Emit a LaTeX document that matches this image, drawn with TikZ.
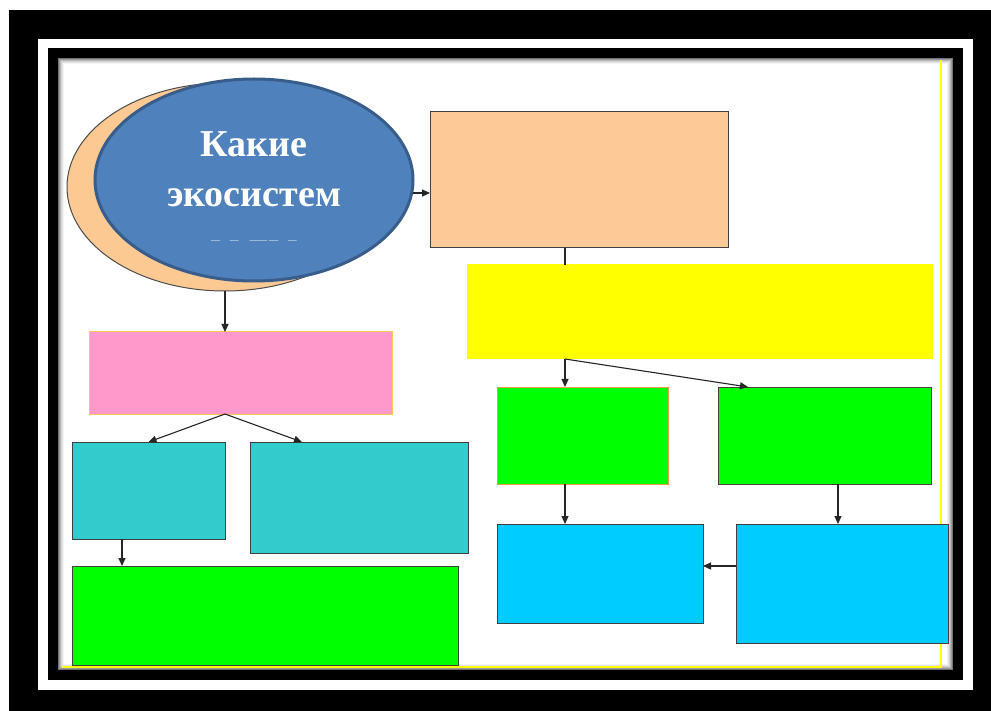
\documentclass[tikz,border=0pt]{standalone}
\usepackage{fontspec}
\setmainfont{Liberation Serif}
\usetikzlibrary{shapes.geometric,arrows.meta,calc}
\definecolor{peachc}{HTML}{FDC997}
\definecolor{ellorange}{HTML}{FCC992}
\definecolor{pinkc}{HTML}{FF99CC}
\definecolor{pinkline}{HTML}{FFC94D}
\definecolor{tealc}{HTML}{33CCCC}
\definecolor{greenc}{HTML}{00FF00}
\definecolor{yellowc}{HTML}{FFFF00}
\definecolor{cyanc}{HTML}{00CCFF}
\definecolor{bluefill}{HTML}{4F81BD}
\definecolor{bluedark}{HTML}{385D8A}
\definecolor{boxline}{HTML}{404040}
\definecolor{orangeline}{HTML}{F79646}
\begin{document}
\begin{tikzpicture}[x=1pt,y=-1pt,
  box/.style={draw=boxline, line width=1pt, inner sep=0pt, outer sep=0pt, anchor=north west},
  conn/.style={draw=black!85, line width=1.1pt},
  arr/.style={conn, -{Triangle[length=8pt,width=7pt]}},
  eltext/.style={font=\fontsize{38}{46}\selectfont\bfseries, text=white, anchor=base, inner sep=0pt}]
\useasboundingbox (0,0) rectangle (991,711);
\fill[white] (0,0) rectangle (991,711);
\fill[black] (9,10) rectangle (991,711);
\fill[white] (38,39) rectangle (973,690);
\fill[black] (48,48) rectangle (963,680);
\fill[white] (58,58) rectangle (953,670);
\foreach \i/\o in {0.5/0.55,1.5/0.4,2.5/0.28,3.5/0.18,4.5/0.1,5.5/0.05}
  \draw[black, opacity=\o, line width=1pt] (58+\i,58+\i) rectangle (953-\i,670-\i);
\draw[yellowc, line width=1.2pt] (941,60) -- (941,667) -- (62,667);

% boxes
\node[box, fill=peachc, minimum width=298pt, minimum height=136pt] (peach) at (430,112) {};
\node[box, draw=yellowc, fill=yellowc, minimum width=465pt, minimum height=94pt] (yellow) at (467,265) {};
\node[box, draw=orangeline, fill=greenc, minimum width=171pt, minimum height=97pt] (green1) at (497,387) {};
\node[box, fill=greenc, minimum width=213pt, minimum height=97pt] (green2) at (718,387) {};
\node[box, fill=cyanc, minimum width=206pt, minimum height=99pt] (cyan1) at (497,524) {};
\node[box, fill=cyanc, minimum width=212pt, minimum height=119pt] (cyan2) at (736,524) {};
\node[box, draw=pinkline, fill=pinkc, minimum width=303pt, minimum height=82pt] (pink) at (89,332) {};
\node[box, fill=tealc, minimum width=153pt, minimum height=97pt] (teal1) at (72,442) {};
\node[box, fill=tealc, minimum width=218pt, minimum height=111pt] (teal2) at (250,442) {};
\node[box, fill=greenc, minimum width=386pt, minimum height=99pt] (green3) at (72,566) {};

% ellipses
\node[ellipse, draw=black!70, fill=ellorange, line width=1pt, minimum width=316pt, minimum height=208pt, inner sep=0pt] (ell) at (225,187) {};
\node[ellipse, draw=bluedark, fill=bluefill, line width=3pt, minimum width=318pt, minimum height=202pt, inner sep=0pt] (blue) at (254,180) {};
\begin{scope}
  \clip (95,60) rectangle (413,240.5);
  \node[eltext] (t1) at (254,157) {Какие};
  \node[eltext] (t2) at (254,207) {экосистем};
  \node[eltext] (t3) at (254,258.5) {ы ты};
\end{scope}

% connectors
\coordinate (c1) at (565,0);
\coordinate (c2) at (838,0);
\coordinate (c3) at (122,0);
\coordinate (r1) at (0,566);
\draw[conn] (peach.south -| c1) -- (yellow.north -| c1);
\draw[arr] (yellow.south -| c1) -- (green1.north -| c1);
\draw[arr] (yellow.south -| c1) -- ($(green2.north west)+(30,0)$);
\draw[arr] (green1.south -| c1) -- (cyan1.north -| c1);
\draw[arr] (green2.south -| c2) -- (cyan2.north -| c2);
\draw[arr] (cyan2.west |- r1) -- (cyan1.east |- r1);
\draw[arr] ($(blue.east)+(-2,13)$) -- ($(peach.west)+(0,13)$);
\draw[arr] (ell.south) -- (ell.south |- pink.north);
\draw[arr] (pink.south -| ell.south) -- (teal1.north);
\draw[arr] (pink.south -| ell.south) -- ($(teal2.north west)+(52,0)$);
\draw[arr] (teal1.south -| c3) -- (green3.north -| c3);
\end{tikzpicture}
\end{document}
